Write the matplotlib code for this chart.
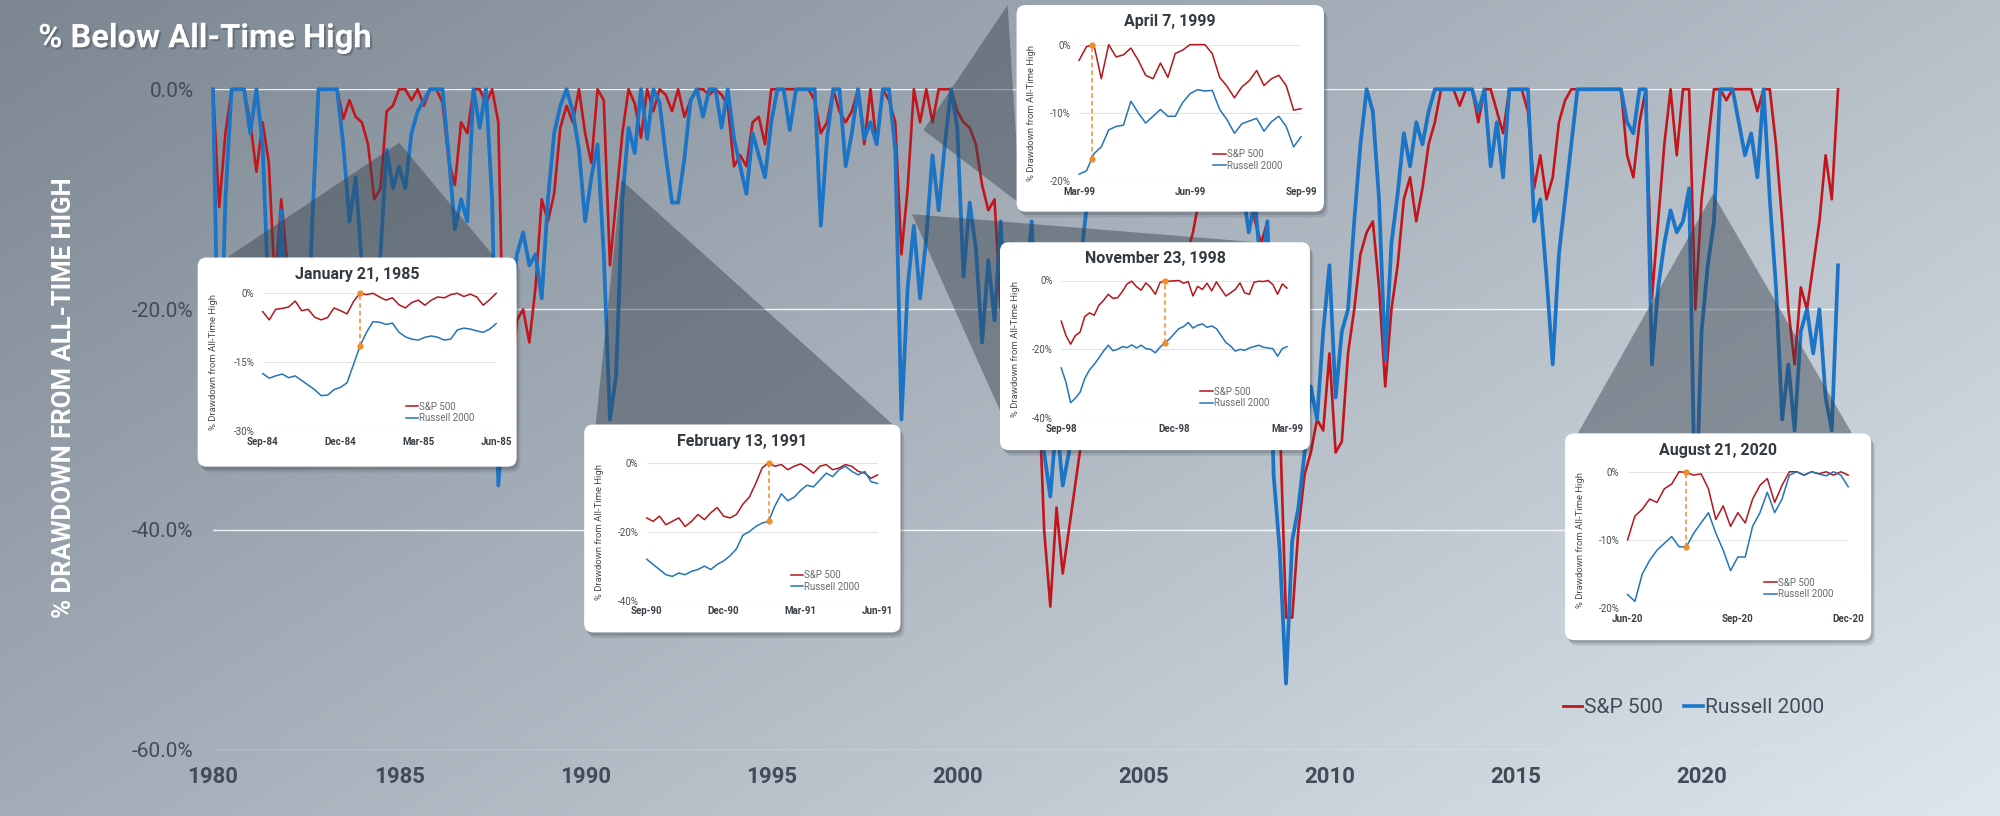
from __future__ import annotations

import numpy as np
import matplotlib.pyplot as plt
import matplotlib.patheffects as pe
from matplotlib.lines import Line2D
from matplotlib.patches import FancyBboxPatch, Polygon

plt.rcParams["font.family"] = ["Roboto", "DejaVu Sans"]

# layout grid in reference units (1568 x 640), saved at 2000 x 816
W, H = 1568, 640

RED = "#c3161c"
BLUE = "#1b74c5"
IN_RED = "#b3161c"
IN_BLUE = "#2474b8"
ORANGE = "#f28c28"
TXT = "#414c57"

# ---------------------------------------------------------------------------
# Main chart data: % below all-time high, six readings a year from 1980.0
# ---------------------------------------------------------------------------
sp500_dd = [
    0, -10.7, -4, 0, 0, 0,             # 1980
    -3, -7.5, -3, -6.7, -18, -10,      # 1981
    -16, -20, -19, -25, -12, 0,        # 1982
    0, 0, 0, -2.7, -1, -2.5,           # 1983
    -3, -5, -10, -9, -2, -1.5,         # 1984
    0, 0, -1, 0, -1.5, 0,              # 1985
    0, -1.2, -6.5, -8.7, -3, -4,       # 1986
    0, 0, -1.3, 0, -3, -29,            # 1987
    -27, -21, -20, -23, -18, -10,      # 1988
    -12, -9.5, -3.5, -1.5, -3, 0,      # 1989
    -4, -6.7, 0, -1, -16, -10,         # 1990
    -4, 0, -1.3, -4.4, 0, -2,          # 1991
    0, -0.5, -2, 0, -2.5, -1,          # 1992
    0, 0, -0.5, 0, -0.5, -1.5,         # 1993
    -7, -6, -7, -3, -2.5, -5,          # 1994
    0, 0, 0, 0, 0, 0,                  # 1995
    0, -1, -4, -3, 0, -2,              # 1996
    -3, -2, 0, -5, 0, -5,              # 1997
    0, -1, -3, -15, -9, 0,             # 1998
    -3, 0, -3, 0, 0, 0,                # 1999
    -2, -3, -3.5, -5, -8.7, -11,       # 2000
    -10, -20, -17, -22, -26, -22,      # 2001
    -24, -25, -40, -47, -38, -44,      # 2002
    -40, -36, -32, -28, -27, -22,      # 2003
    -21, -22, -23, -20, -22, -18,      # 2004
    -18, -17, -19, -16, -17, -15,      # 2005
    -17, -15, -13, -10, -7, -4,        # 2006
    -2, 0, 0, -3, -1, -8,              # 2007
    -12, -14, -12, -22, -30, -48,      # 2008
    -48, -40, -35, -33, -30, -31,      # 2009
    -24, -33, -32, -24, -20, -15,      # 2010
    -13, -12, -18, -27, -20, -16,      # 2011
    -10, -8, -12, -9, -5, -3,          # 2012
    0, 0, 0, -1.5, 0, 0,               # 2013
    -3, 0, 0, -2, -4, 0,               # 2014
    0, 0, -2, -9, -6, -10,             # 2015
    -8, -3, -1, 0, 0, 0,               # 2016
    0, 0, 0, 0, 0, 0,                  # 2017
    -6, -8, -3, 0, -19, -12,           # 2018
    -5, 0, -6, 0, 0, -20,              # 2019
    -10, -5, 0, 0, -1, 0,              # 2020
    0, 0, 0, -2, 0, 0,                 # 2021
    -5, -12, -20, -25, -18, -20,       # 2022
    -16, -12, -6, -10, 0,              # 2023
]

r2000_dd = [
    0, -30, -10, 0, 0, 0,              # 1980
    -4, 0, -5, -20, -26, -11,          # 1981
    -24, -30, -28, -28, -12, 0,        # 1982
    0, 0, 0, -5, -12, -8,              # 1983
    -16, -20, -24, -15, -5.5, -9,      # 1984
    -7, -9, -4, -2, -1, 0,             # 1985
    0, 0, -6, -12.7, -10, -12,         # 1986
    0, -3.5, 0, -10, -36, -28,         # 1987
    -20, -15, -13, -16, -15, -19,      # 1988
    -10, -4, -1.5, 0, -2, -5.5,        # 1989
    -12, -8, -5, -15, -30, -26,        # 1990
    -10, -3.5, -5.8, 0, -4.5, 0,       # 1991
    -1.2, -6, -10.3, -10.3, -6.3, -1,  # 1992
    0, -2.5, 0, 0, -3.5, 0,            # 1993
    -4.5, -7, -9.5, -4, -6, -8,        # 1994
    -3, 0, 0, -3.7, 0, 0,              # 1995
    0, 0, -12.4, -4.5, 0, 0,           # 1996
    -7, -4, 0, -4.5, -3, -5,           # 1997
    0, 0, -5.5, -30, -18, -12.4,       # 1998
    -19, -13.5, -6, -11, -5, 0,        # 1999
    -3.5, -17, -10.3, -14.5, -23, -15.5,  # 2000
    -21, -12, -24, -14, -22, -18,      # 2001
    -12, -25, -33, -37, -30, -36,      # 2002
    -33, -25, -15, -10, -6, -3,        # 2003
    0, -3, -7, -5, -8, 0,              # 2004
    -2, -9, -4, 0, -3, -2,             # 2005
    0, -1, -7, -9, -6, -2,             # 2006
    0, 0, 0, -5, -9, -13,              # 2007
    -10, -17, -12, -35, -42, -54,      # 2008
    -41, -38, -33, -27, -30, -22,      # 2009
    -16, -28, -22, -20, -12, -5,       # 2010
    0, -2, -10, -24.6, -14, -9.5,      # 2011
    -4, -7, -3, -5, -2, 0,             # 2012
    0, 0, 0, 0, 0, 0,                  # 2013
    -2, 0, -7, -3, -8, 0,              # 2014
    0, 0, 0, -12, -10, -17,            # 2015
    -25, -15, -10, -5, 0, 0,           # 2016
    0, 0, 0, 0, 0, 0,                  # 2017
    -3, -4, 0, 0, -25, -18,            # 2018
    -14, -11, -13, -12, -9, -40,       # 2019
    -22, -16, -12, 0, 0, 0,            # 2020
    -3, -6, -4, -8, 0, -10,            # 2021
    -18, -30, -25, -31, -22, -20,      # 2022
    -24, -20, -28, -31, -16,           # 2023
]

# ---------------------------------------------------------------------------
# Inset data: daily-ish readings, evenly spaced over the inset window
# ---------------------------------------------------------------------------
jan85_sp = [-4, -5.8, -3.5, -3.3, -3, -1.7, -3.8, -3.5, -5.2, -5.8, -5.3, -3.2,
            -3.8, -4.5, -1.8, 0, -0.3, 0, -0.8, -1.5, -1, -2.5, -3.2, -2, -1.5,
            -2.6, -1.5, -0.8, -1, -0.3, 0, -0.7, -0.2, -0.8, -2.6, -1.4, 0]
jan85_rut = [-17.5, -18.5, -18, -17.6, -18.4, -18, -19, -20, -21, -22.3, -22.2,
             -21, -20.5, -19.5, -15.5, -11.5, -8.5, -6.2, -6.3, -6.8, -6.5, -8.5,
             -9.5, -10, -10.2, -9.6, -9.3, -9.6, -10.2, -10, -8, -7.6, -7.8,
             -8.2, -8.5, -7.8, -6.6]

feb91_sp = [-16, -17, -15.5, -18, -17, -16, -18.5, -17, -15, -16.5, -14.5, -13,
            -15.5, -16, -15, -12, -10, -6, -1.5, 0, -1, -0.5, -2, -1, -0.3, -1.5,
            -3, -1, -0.5, -2, -1.5, -0.5, -1, -2.5, -3, -4.5, -3.5]
feb91_rut = [-28, -29.5, -31, -32.5, -33, -32, -32.5, -31.5, -31, -30, -31,
             -29.5, -28.5, -27, -25, -21, -20, -18.5, -17.5, -17, -12.5, -9, -11,
             -10, -8, -6.5, -7, -5, -3, -4, -2, -1, -2.5, -3.5, -2.5, -5.5, -6]

nov98_sp = [-11.8, -16, -18.5, -16, -15, -10.5, -9.4, -10.1, -7.2, -5.8, -4,
            -5.2, -5, -3.2, -1, -0.2, -1.8, -2.8, -0.7, -2, -4, -0.6, 0, -0.2,
            -0.1, 0, -0.8, -0.3, -4.5, -1.7, -2.6, -0.8, -3, -0.4, -2.5, -4.5,
            -3.6, -2.6, -0.7, -3.6, -4, -0.5, -0.2, -0.3, 0, -1.2, -4, -1, -2.2]
nov98_rut = [-25.4, -29.5, -35.5, -34.2, -32.5, -28.5, -26, -24.4, -22.5, -20.5,
             -18.8, -20.4, -20, -19.2, -19.5, -18.7, -19.6, -18.8, -19.8, -20,
             -21, -19.4, -18.1, -17, -15.5, -14, -13.4, -12.2, -13.8, -13, -12.6,
             -13.6, -13.2, -14, -16, -18, -19, -20.5, -20, -20.3, -19.6, -19.2,
             -18.8, -19.4, -19.6, -19.8, -22, -19.8, -19.2]

apr99_sp = [-2.3, -0.3, 0, -5, 0, -1.8, -1.5, -0.5, -2.3, -4.5, -5, -2.7, -4.8,
            -1.3, -0.8, 0, 0, 0, -1.3, -4.8, -6.1, -7.8, -6.2, -5.3, -3.8, -6, -5,
            -4.5, -6, -9.6, -9.4]
apr99_rut = [-19, -18.5, -16, -15, -12.5, -12, -11.8, -8.3, -10, -11.5, -10.5,
             -9.5, -10.5, -10.5, -8.5, -7.2, -6.6, -6.8, -6.7, -9.5, -11, -13,
             -11.6, -11.2, -10.8, -12.7, -11.3, -10.5, -12, -15, -13.5]

aug20_sp = [-10, -6.5, -5.5, -4, -4.5, -2.5, -1.8, 0, -0.1, -0.5, -0.3, -2.5, -7,
            -5, -8, -6, -7.5, -4, -2, -1, -4.5, -2, 0, 0, -0.5, 0, -0.3, 0, -0.5,
            0, -0.5]
aug20_rut = [-18, -19, -15, -13, -11.5, -10.5, -9.5, -11, -11, -9, -7.5, -6, -9,
             -11.5, -14.5, -12.5, -12.5, -8, -6, -3, -6, -4, -0.5, 0, -0.5, 0,
             -0.3, -0.6, 0, -0.5, -2.2]


# ---------------------------------------------------------------------------
# Helpers
# ---------------------------------------------------------------------------

def px_rect(x0: float, y0: float, x1: float, y1: float) -> list[float]:
    """figure rect from reference-pixel box (y measured from the top)"""
    return [x0 / W, 1 - y1 / H, (x1 - x0) / W, (y1 - y0) / H]


def draw_inset(fig, ov, spec: dict) -> None:
    bx0, by0, bx1, by1 = spec["box"]
    ax0, ay0, ax1, ay1 = spec["plot"]

    # shadow + white card
    for off, a in [((1.5, 2.5), 0.18), ((3, 4.5), 0.12)]:
        ov.add_patch(FancyBboxPatch((bx0 + off[0], by0 + off[1]), bx1 - bx0, by1 - by0,
                                    boxstyle="round,pad=0,rounding_size=7",
                                    fc="#1c242c", ec="none", alpha=a, zorder=5))
    ov.add_patch(FancyBboxPatch((bx0, by0), bx1 - bx0, by1 - by0,
                                boxstyle="round,pad=0,rounding_size=7",
                                fc="white", ec="none", zorder=6))
    ov.text((bx0 + bx1) / 2, by0 + 13, spec["title"], ha="center", va="center",
            fontsize=11.5, fontweight="bold", color="#333a40", zorder=7)
    ov.text(bx0 + 12, (ay0 + ay1) / 2, "% Drawdown from All-Time High", rotation=90,
            ha="center", va="center", fontsize=6.8, color="#4a4a4a", zorder=7)

    ax = fig.add_axes(px_rect(ax0, ay0, ax1, ay1), zorder=3)
    ax.patch.set_alpha(0)
    sp, rut = spec["sp"], spec["rut"]
    span = spec["span"]
    xs = np.linspace(0, span, len(sp))
    xr = np.linspace(0, span, len(rut))
    l1, = ax.plot(xs, sp, color=IN_RED, lw=1.1, clip_on=False, zorder=3)
    l2, = ax.plot(xr, rut, color=IN_BLUE, lw=1.1, clip_on=False, zorder=3)

    ev = spec["event"]
    ev_sp = np.interp(ev, xs, sp)
    ev_rut = np.interp(ev, xr, rut)
    ax.plot([ev, ev], [ev_rut, ev_sp], color=ORANGE, lw=1.1, ls=(0, (3, 2)), zorder=4)
    ax.plot([ev, ev], [ev_rut, ev_sp], "o", color=ORANGE, ms=3.5, zorder=5, clip_on=False)

    ax.set_xlim(0, span)
    ax.set_ylim(spec["ymin"], 0)
    yt = [0, spec["ymin"] / 2, spec["ymin"]]
    ax.set_yticks(yt, [f"{int(v)}%" for v in yt])
    ax.set_xticks(np.linspace(0, span, len(spec["xlabels"])), spec["xlabels"])
    ax.grid(axis="y", color="#e4e4e4", lw=0.8)
    ax.set_axisbelow(True)
    for s in ax.spines.values():
        s.set_visible(False)
    ax.tick_params(length=0, labelsize=7, labelcolor="#4a4a4a")
    ax.tick_params(axis="y", pad=6)
    ax.tick_params(axis="x", pad=4)
    for lbl in ax.get_xticklabels():
        lbl.set_fontweight("bold")
        lbl.set_color("#3a3f44")

    lx, ly = spec["legend"]
    ax.legend([l1, l2], ["S&P 500", "Russell 2000"], loc="lower left",
              bbox_to_anchor=((lx - ax0) / (ax1 - ax0), (ay1 - ly - 4) / (ay1 - ay0)),
              frameon=False, fontsize=7, labelcolor="#6a6a6a", handlelength=1.3,
              handletextpad=0.1, labelspacing=0.15, borderpad=0, borderaxespad=0)


# ---------------------------------------------------------------------------
# Main
# ---------------------------------------------------------------------------

def main() -> None:
    assert len(sp500_dd) == len(r2000_dd)
    fig = plt.figure(figsize=(20, 8.16), dpi=100)

    # background gradient
    bg = fig.add_axes([0, 0, 1, 1], zorder=0)
    gx = np.linspace(0, 1, 400)
    gy = np.linspace(0, 1, 160)
    t = 0.6 * gx[None, :] + 0.4 * gy[:, None]
    c0 = np.array([0x7b, 0x86, 0x91]) / 255
    c1 = np.array([0xdf, 0xe6, 0xee]) / 255
    bg.imshow(c0 + t[..., None] * (c1 - c0), extent=[0, 1, 0, 1], aspect="auto",
              origin="upper")
    bg.set_axis_off()

    # main drawdown chart
    ax = fig.add_axes(px_rect(167, 70, 1441, 588), zorder=1)
    ax.patch.set_alpha(0)
    years = 1980 + np.arange(len(sp500_dd)) / 6
    ax.plot(years, sp500_dd, color=RED, lw=1.9, clip_on=False, zorder=3)
    ax.plot(years, r2000_dd, color=BLUE, lw=2.7, clip_on=False, zorder=4)
    ax.set_xlim(1980, years[-1])
    ax.set_ylim(-60, 0)
    ax.set_yticks([0, -20, -40, -60], ["0.0%", "-20.0%", "-40.0%", "-60.0%"])
    ax.set_xticks(range(1980, 2021, 5))
    ax.grid(axis="y", color="white", lw=1.0, alpha=0.85)
    ax.set_axisbelow(True)
    for s in ax.spines.values():
        s.set_visible(False)
    ax.tick_params(length=0, labelcolor=TXT)
    ax.tick_params(axis="y", pad=14, labelsize=15)
    ax.tick_params(axis="x", pad=12, labelsize=16)
    for lbl in ax.get_xticklabels():
        lbl.set_fontweight("bold")

    fig.legend([Line2D([], [], color=RED, lw=2), Line2D([], [], color=BLUE, lw=2.6)],
               ["S&P 500", "Russell 2000"], loc="center right",
               bbox_to_anchor=(1430 / W, 1 - 555 / H), ncol=2, frameon=False,
               fontsize=15, labelcolor=TXT, handlelength=0.9, handletextpad=0.1,
               columnspacing=1.0, borderpad=0, borderaxespad=0)

    # titles
    fig.text(30 / W, 1 - 30 / H, "% Below All-Time High", fontsize=23.5,
             fontweight="bold", color="white", va="center", ha="left",
             path_effects=[pe.withSimplePatchShadow(offset=(1.5, -1.5),
                                                    shadow_rgbFace="#333b44", alpha=0.35)])
    fig.text(50 / W, 1 - 312 / H, "% DRAWDOWN FROM ALL-TIME HIGH", rotation=90,
             fontsize=18.5, fontweight="bold", color="white", ha="center", va="center")

    # overlay for callout wedges and cards
    ov = fig.add_axes([0, 0, 1, 1], zorder=2)
    ov.set_xlim(0, W)
    ov.set_ylim(H, 0)
    ov.set_axis_off()

    wedges = [
        [(313, 112), (178, 202), (388, 202)],
        [(487, 141), (467, 333), (700, 333)],
        [(715, 168), (985, 190), (784, 322)],
        [(724, 102), (790, 4), (800, 160)],
        [(1343, 152), (1237, 340), (1452, 340)],
    ]
    for pts in wedges:
        ov.add_patch(Polygon(pts, closed=True, fc="#37414b", ec="none", alpha=0.45,
                             zorder=2))

    insets = [
        dict(title="January 21, 1985", box=(155, 202, 405, 366), plot=(206, 230, 389, 338),
             sp=jan85_sp, rut=jan85_rut, span=9, event=3.75, ymin=-30,
             xlabels=["Sep-84", "Dec-84", "Mar-85", "Jun-85"], legend=(318, 328)),
        dict(title="February 13, 1991", box=(458, 333, 706, 496), plot=(507, 363, 688, 471),
             sp=feb91_sp, rut=feb91_rut, span=9, event=4.75, ymin=-40,
             xlabels=["Sep-90", "Dec-90", "Mar-91", "Jun-91"], legend=(620, 460)),
        dict(title="November 23, 1998", box=(784, 190, 1027, 353), plot=(832, 220, 1009, 328),
             sp=nov98_sp, rut=nov98_rut, span=6, event=2.75, ymin=-40,
             xlabels=["Sep-98", "Dec-98", "Mar-99"], legend=(941, 316)),
        dict(title="April 7, 1999", box=(797, 4, 1038, 166), plot=(846, 35, 1020, 142),
             sp=apr99_sp, rut=apr99_rut, span=6, event=0.34, ymin=-20,
             xlabels=["Mar-99", "Jun-99", "Sep-99"], legend=(951, 130)),
        dict(title="August 21, 2020", box=(1227, 340, 1467, 502), plot=(1276, 370, 1449, 477),
             sp=aug20_sp, rut=aug20_rut, span=6, event=1.6, ymin=-20,
             xlabels=["Jun-20", "Sep-20", "Dec-20"], legend=(1383, 466)),
    ]
    for spec in insets:
        draw_inset(fig, ov, spec)

    fig.savefig("out.png", dpi=100)
    plt.close(fig)


if __name__ == "__main__":
    main()
